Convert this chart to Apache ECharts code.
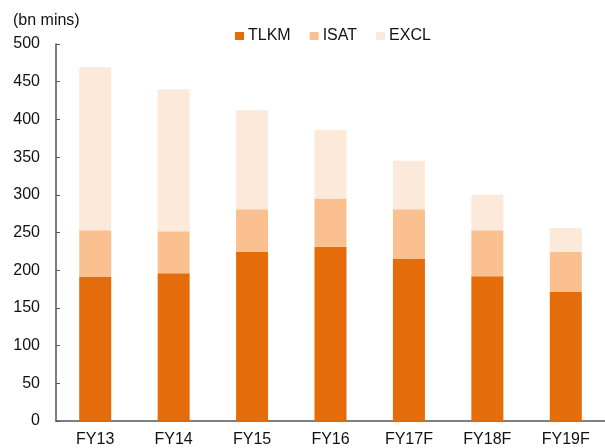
<!DOCTYPE html>
<html><head><meta charset="utf-8">
<script src="https://cdn.jsdelivr.net/npm/echarts@6/dist/echarts.min.js"></script>
<style>html,body{margin:0;padding:0;background:#fff}#c{width:605px;height:448px}</style>
</head><body><div id="c"></div>
<script>
const categories = ["FY13","FY14","FY15","FY16","FY17F","FY18F","FY19F"];
const tlkm = [191, 196, 224, 231, 215, 192, 171];
const isat = [62, 55.5, 57, 64, 66, 61, 53];
const excl = [216, 188.5, 131, 91, 64, 47, 32];
const yTicks = [0, 50, 100, 150, 200, 250, 300, 350, 400, 450, 500];

const font = "'Liberation Sans', Arial, sans-serif";
const txt = '#111';
const chart = echarts.init(document.getElementById('c'), null, {renderer:'canvas'});
chart.setOption({
  animation: false,
  title: { text: "(bn mins)", left: 8, top: 8, textStyle: { fontFamily: font, fontSize: 16, fontWeight: 'normal', color: txt } },
  legend: {
    left: 230, top: 23, itemWidth: 9, itemHeight: 8, itemGap: 19, icon: 'rect',
    textStyle: { fontFamily: font, fontSize: 16, color: txt, padding: [0,0,0,-1] },
    data: ["TLKM","ISAT","EXCL"]
  },
  grid: { left: 56, top: 44, width: 557, height: 377.7, containLabel: false },
  xAxis: {
    type: 'category', data: categories,
    axisLine: { lineStyle: { color: '#555', width: 1.5 } },
    axisTick: { inside: true, length: 4, lineStyle: { color: '#555' } },
    axisLabel: { fontFamily: font, fontSize: 16, color: txt, margin: 11 }
  },
  yAxis: {
    type: 'value', min: yTicks[0], max: yTicks[yTicks.length-1], interval: yTicks[1]-yTicks[0],
    splitLine: { show: false },
    axisLine: { show: true, lineStyle: { color: '#555', width: 1.5 } },
    axisTick: { show: true, inside: true, length: 4, lineStyle: { color: '#555' } },
    axisLabel: { fontFamily: font, fontSize: 16, color: txt, margin: 16 }
  },
  series: [
    { name: "TLKM", type: 'bar', stack: 's', data: tlkm, barWidth: 32, itemStyle: { color: '#E46C0A' } },
    { name: "ISAT", type: 'bar', stack: 's', data: isat, barWidth: 32, itemStyle: { color: '#FAC090' } },
    { name: "EXCL", type: 'bar', stack: 's', data: excl, barWidth: 32, itemStyle: { color: '#FDE9D9' } }
  ]
});
</script></body></html>
